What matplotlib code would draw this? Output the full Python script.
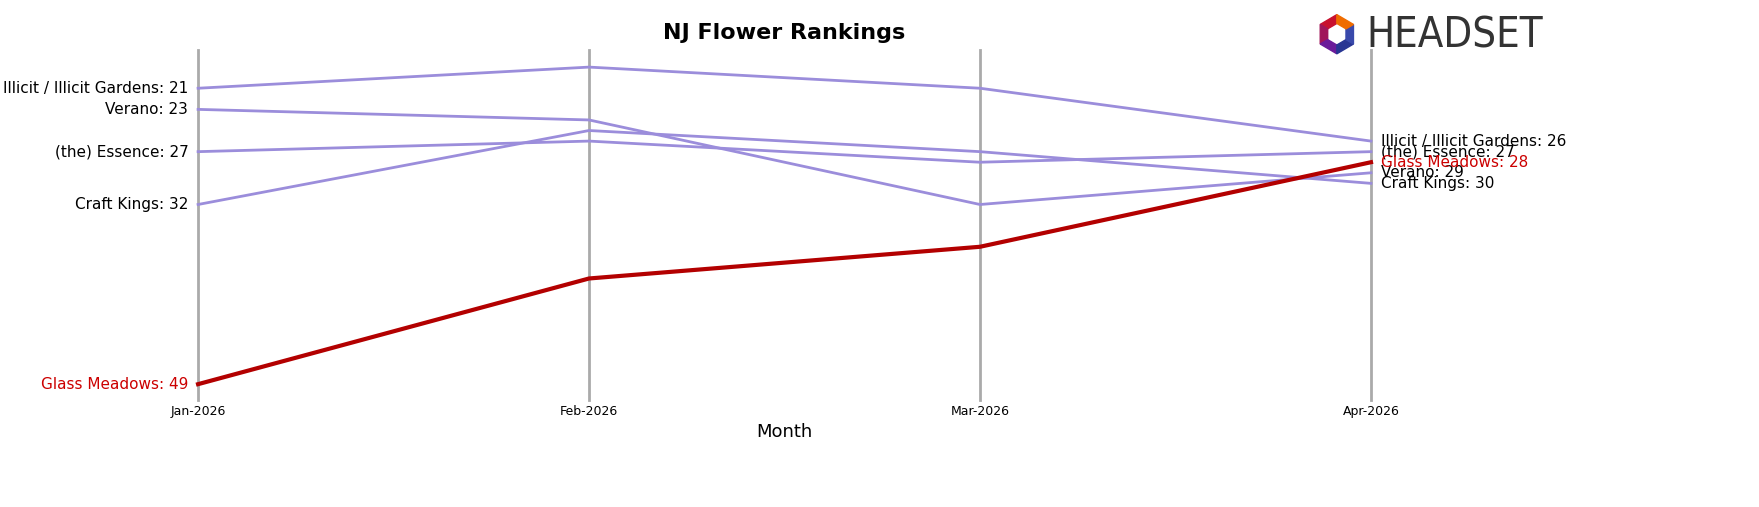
import matplotlib
matplotlib.use('Agg')
import matplotlib.pyplot as plt
import numpy as np
from matplotlib.patches import Polygon

months = ['Jan-2026', 'Feb-2026', 'Mar-2026', 'Apr-2026']
brands = ['Illicit / Illicit Gardens', 'Verano', '(the) Essence', 'Craft Kings', 'Glass Meadows']
ranks_illicit = [21, 19, 21, 26]
ranks_verano = [23, 24, 32, 29]
ranks_essence = [27, 26, 28, 27]
ranks_craft = [32, 25, 27, 30]
ranks_glass = [49, 39, 36, 28]
all_ranks = [ranks_illicit, ranks_verano, ranks_essence, ranks_craft, ranks_glass]

fig = plt.figure(figsize=(17.59, 5.07), dpi=100)
ax = fig.add_axes([0.1126, 0.211, 0.6668, 0.69])
x = list(range(len(months)))

for i in x:
    ax.axvline(i, color='#aaaaaa', linewidth=2, zorder=0, clip_on=False)

for name, r in zip(brands, all_ranks):
    focus = name == 'Glass Meadows'
    col = '#b30000' if focus else '#9b8ddb'
    ax.plot(x, r, color=col, linewidth=3 if focus else 2, zorder=3 if focus else 2, clip_on=False)
    tcol = '#cc0000' if focus else 'black'
    ax.text(-0.025, r[0], f'{name}: {r[0]}', ha='right', va='center', fontsize=11, color=tcol)
    ax.text(3.025, r[-1], f'{name}: {r[-1]}', ha='left', va='center', fontsize=11, color=tcol)

ax.set_ylim(50.5, 17.4)
ax.set_xlim(0, 3)
ax.set_yticks([])
ax.set_xticks(x)
ax.set_xticklabels(months, fontsize=9)
ax.tick_params(axis='x', length=0)
for s in ax.spines.values():
    s.set_visible(False)
ax.set_xlabel('Month', fontsize=13)
ax.set_title('NJ Flower Rankings', fontsize=16, fontweight='bold', pad=8)

# logo mark: hexagon ring of coloured segments
lax = fig.add_axes([0.748, 0.89, 0.024, 0.085])
lax.set_xlim(-1.1, 1.1)
lax.set_ylim(-1.1, 1.1)
lax.axis('off')
seg_cols = ['#c8102e', '#a0155a', '#6a1b9a', '#283593', '#3949ab', '#ef6c00']
ang = np.deg2rad(np.arange(90, 450, 60))
for k in range(6):
    a0, a1 = ang[k], ang[(k + 1) % 6]
    pts = [(np.cos(a0), np.sin(a0)), (np.cos(a1), np.sin(a1)),
           (0.55 * np.cos(a1), 0.55 * np.sin(a1)), (0.55 * np.cos(a0), 0.55 * np.sin(a0))]
    lax.add_patch(Polygon(pts, color=seg_cols[k]))

fig.text(0.777, 0.93, 'HEADSET', fontsize=30, color='#333333', ha='left', va='center',
         fontfamily='DejaVu Sans', fontstretch='condensed')

fig.savefig('out.png', dpi=100)
